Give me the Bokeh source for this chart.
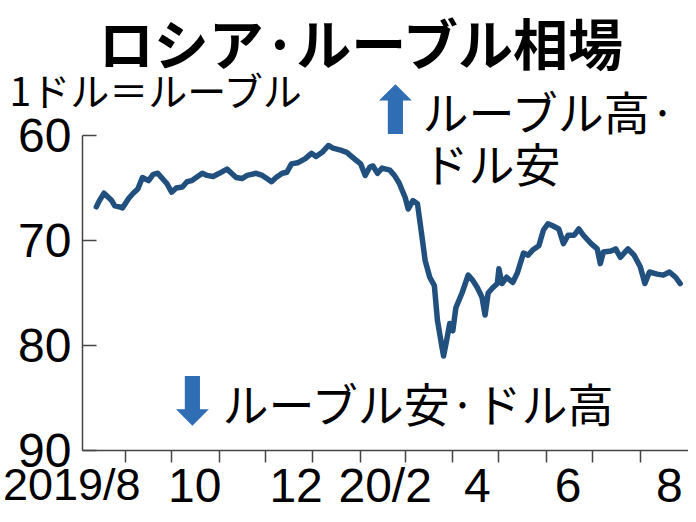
import pandas as pd
from bokeh.plotting import figure
from bokeh.models import Range1d, FixedTicker, Label, ColumnDataSource
from bokeh.embed import file_html
from bokeh.resources import INLINE

# ---- data ----
dates = [
    "2019-08-13", "2019-08-15", "2019-08-18", "2019-08-23", "2019-08-25", "2019-08-28",
    "2019-08-30", "2019-09-03", "2019-09-06", "2019-09-09", "2019-09-12", "2019-09-16",
    "2019-09-19", "2019-09-22", "2019-09-25", "2019-09-28", "2019-10-01", "2019-10-04",
    "2019-10-08", "2019-10-11", "2019-10-14", "2019-10-17", "2019-10-21", "2019-10-24",
    "2019-10-28", "2019-11-01", "2019-11-06", "2019-11-09", "2019-11-12", "2019-11-16",
    "2019-11-19", "2019-11-22", "2019-11-25", "2019-11-29", "2019-12-02", "2019-12-05",
    "2019-12-08", "2019-12-12", "2019-12-15", "2019-12-18", "2019-12-22", "2019-12-27",
    "2019-12-31", "2020-01-03", "2020-01-07", "2020-01-11", "2020-01-14", "2020-01-19",
    "2020-01-23", "2020-01-27", "2020-02-01", "2020-02-04", "2020-02-07", "2020-02-09",
    "2020-02-12", "2020-02-15", "2020-02-20", "2020-02-23", "2020-02-26", "2020-03-01",
    "2020-03-03", "2020-03-06", "2020-03-09", "2020-03-12", "2020-03-14", "2020-03-17",
    "2020-03-20", "2020-03-22", "2020-03-25", "2020-03-26", "2020-03-28", "2020-03-30",
    "2020-04-01", "2020-04-03", "2020-04-07", "2020-04-11", "2020-04-14", "2020-04-17",
    "2020-04-20", "2020-04-22", "2020-04-24", "2020-04-27", "2020-04-30", "2020-05-01",
    "2020-05-03", "2020-05-06", "2020-05-10", "2020-05-13", "2020-05-17", "2020-05-20",
    "2020-05-23", "2020-05-27", "2020-05-30", "2020-06-02", "2020-06-05", "2020-06-09",
    "2020-06-12", "2020-06-15", "2020-06-19", "2020-06-22", "2020-06-25", "2020-06-30",
    "2020-07-04", "2020-07-06", "2020-07-08", "2020-07-13", "2020-07-16", "2020-07-19",
    "2020-07-24", "2020-07-28", "2020-08-01", "2020-08-04", "2020-08-07", "2020-08-12",
    "2020-08-16", "2020-08-20", "2020-08-24", "2020-08-27",
]
rates = [
    66.8, 66.2, 65.5, 66.2, 66.7, 66.8,
    66.9, 66.0, 65.5, 65.1, 64.0, 64.3,
    63.7, 63.6, 64.1, 64.6, 65.4, 65.0,
    64.9, 64.4, 64.3, 64.0, 63.6, 63.8,
    63.9, 63.6, 63.2, 63.6, 64.0, 64.1,
    63.8, 63.7, 63.6, 63.8, 64.1, 64.4,
    64.0, 63.6, 63.5, 62.7, 62.6, 62.2,
    61.7, 62.0, 61.6, 60.95, 61.2, 61.4,
    61.6, 62.1, 62.7, 63.8, 63.0, 62.9,
    63.6, 63.1, 63.3, 63.8, 64.5, 65.9,
    67.0, 66.2, 66.5, 69.7, 71.9, 73.5,
    74.3, 77.6, 80.2, 81.0, 79.5, 77.9,
    78.6, 76.4, 75.0, 73.3, 73.8, 74.5,
    75.4, 77.1, 75.0, 74.5, 74.1, 72.7,
    74.1, 73.5, 74.0, 73.1, 71.2, 71.4,
    70.9, 70.5, 69.0, 68.4, 68.6, 68.9,
    70.3, 69.5, 69.5, 68.9, 69.5, 70.3,
    70.8, 72.2, 71.1, 71.0, 70.8, 71.6,
    70.8, 71.4, 72.5, 74.1, 73.0, 73.2,
    73.3, 73.0, 73.5, 74.1,
]

axis_start, axis_end = "2019-08-04", "2020-09-04"
month_ticks = ["2019-09-01", "2019-10-01", "2019-11-01", "2019-12-01", "2020-01-01",
               "2020-02-01", "2020-03-01", "2020-04-01", "2020-05-01", "2020-06-01",
               "2020-07-01", "2020-08-01"]
label_dates = ["2019-10-16", "2019-12-21", "2020-02-17", "2020-04-17", "2020-06-15", "2020-08-20"]
label_texts = ["10", "12", "20/2", "4", "6", "8"]
first_label_date, first_label_text = "2019-07-28", "2019/8"
y_ticks = [60, 70, 80, 90]
y_top, y_bottom = 60, 90


def ms(d):
    return int(pd.Timestamp(d).value // 10**6)


# ---- layout geometry (picture pixels) ----
W, H, M = 688, 514, 0
AX_L, AX_R, AX_T, AX_B = 82, 692, 135, 450     # where the axes sit in the picture

A0, A1 = ms(axis_start), ms(axis_end)
ms_per_px = (A1 - A0) / (AX_R - AX_L)
X0 = A0 - (AX_L - M) * ms_per_px
X1 = A0 + (M + W - AX_L) * ms_per_px
u_per_px = (y_bottom - y_top) / (AX_B - AX_T)
Y_TOP = y_top - (AX_T - M) * u_per_px
Y_BOT = y_top + (M + H - AX_T) * u_per_px


def X(px):
    return X0 + (px - M) * ms_per_px


def Y(py):
    return Y_TOP + (py - M) * u_per_px


NUM_FONT = "Liberation Sans"
NUM_SIZE = "48px"
JP_FONT = "Noto Sans CJK JP"
AX_COLOR = "#444444"

p = figure(width=W, height=H, output_backend="svg", toolbar_location=None,
           x_axis_type="datetime",
           x_range=Range1d(X0, X1), y_range=Range1d(Y_BOT, Y_TOP),
           min_border_left=0, min_border_right=0, min_border_top=0, min_border_bottom=0)
p.outline_line_color = None
p.grid.visible = False
p.background_fill_color = "white"
p.border_fill_color = "white"

src = ColumnDataSource(dict(date=pd.to_datetime(dates), rate=rates))
p.line(x="date", y="rate", source=src, line_color="#21507f", line_width=5.5,
       line_join="round", line_cap="round")

# x axis
xa = p.xaxis[0]
xa.fixed_location = y_bottom
xa.bounds = (A0, A1)
xa.ticker = FixedTicker(ticks=[ms(d) for d in label_dates],
                        minor_ticks=[ms(d) for d in month_ticks])
xa.major_label_overrides = {ms(d): t for d, t in zip(label_dates, label_texts)}
xa.major_tick_in = 0
xa.major_tick_out = 0
xa.minor_tick_in = 0
xa.minor_tick_out = 12
xa.minor_tick_line_color = AX_COLOR
xa.minor_tick_line_width = 1.5
xa.axis_line_color = AX_COLOR
xa.axis_line_width = 1.5
xa.major_label_standoff = -4
xa.major_label_text_font = NUM_FONT
xa.major_label_text_font_size = NUM_SIZE
xa.major_label_text_color = "black"

# y axis
ya = p.yaxis[0]
ya.fixed_location = A0
ya.bounds = (y_top, y_bottom)
ya.ticker = FixedTicker(ticks=y_ticks)
ya.major_tick_in = 14
ya.major_tick_out = 0
ya.minor_tick_in = 0
ya.minor_tick_out = 0
ya.major_tick_line_color = AX_COLOR
ya.major_tick_line_width = 1.5
ya.axis_line_color = AX_COLOR
ya.axis_line_width = 1.5
ya.major_label_standoff = 11
ya.major_label_text_font = NUM_FONT
ya.major_label_text_font_size = NUM_SIZE
ya.major_label_text_color = "black"


def lab(px, py, text, font, size, bold=False, color="black", align="left", baseline="middle"):
    p.add_layout(Label(x=X(px), y=Y(py), text=text, text_font=font,
                       text_font_size=size, text_font_style="bold" if bold else "normal",
                       text_color=color, text_align=align, text_baseline=baseline))


first_px = AX_L + (ms(first_label_date) - A0) / ms_per_px
lab(first_px, AX_B + 8, first_label_text, NUM_FONT, "45px", align="center", baseline="top")
lab(362, 40, "ロシア·ルーブル相場", JP_FONT, "55px", bold=True, align="center")
lab(9, 88, "1ドル＝ルーブル", JP_FONT, "39px")
lab(395, 111, "⬆", "DejaVu Sans", "66px", color="#2f6db5", align="center")
lab(422, 109, "ルーブル高·", JP_FONT, "46px")
lab(422, 161, "ドル安", JP_FONT, "46px")
lab(192, 401, "⬇", "DejaVu Sans", "66px", color="#2f6db5", align="center")
lab(222, 401, "ルーブル安·ドル高", JP_FONT, "46px")

open("out.html", "w").write(file_html(p, INLINE))
